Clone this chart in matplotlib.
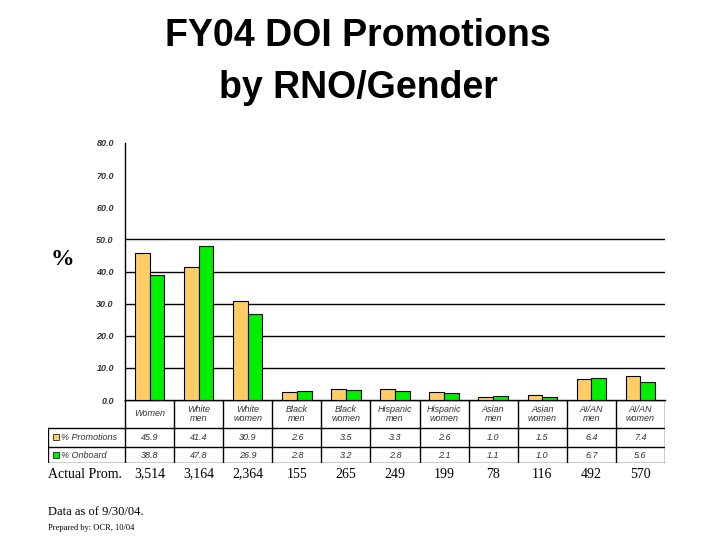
import matplotlib
matplotlib.use("Agg")
import matplotlib.pyplot as plt
import numpy as np

# DATA
categories = ["Women", "White\nmen", "White\nwomen", "Black\nmen", "Black\nwomen",
              "Hispanic\nmen", "Hispanic\nwomen", "Asian\nmen", "Asian\nwomen",
              "AI/AN\nmen", "AI/AN\nwomen"]
promotions = [45.9, 41.4, 30.9, 2.6, 3.5, 3.3, 2.6, 1.0, 1.5, 6.4, 7.4]
onboard    = [38.8, 47.8, 26.9, 2.8, 3.2, 2.8, 2.1, 1.1, 1.0, 6.7, 5.6]
actual     = ["3,514", "3,164", "2,364", "155", "265", "249", "199", "78", "116", "492", "570"]
yticks     = [0, 10, 20, 30, 40, 50, 60, 70, 80]

ORANGE = "#FFCC66"
GREEN = "#00EE00"
W, H = 720, 540

fig = plt.figure(figsize=(7.2, 5.4), dpi=100)

def fx(px): return px / W
def fy(py): return 1 - py / H

# main chart
ax = fig.add_axes([fx(125), fy(400), fx(665) - fx(125), fy(143) - fy(400)])
x = np.arange(len(categories))
bw = 0.3
ax.bar(x - bw / 2, promotions, bw, color=ORANGE, edgecolor="black", linewidth=0.8, zorder=3)
ax.bar(x + bw / 2, onboard, bw, color=GREEN, edgecolor="black", linewidth=0.8, zorder=3)
ax.set_xlim(-0.5, len(categories) - 0.5)
ax.set_ylim(0, 80)
ax.set_yticks(yticks)
ax.set_yticklabels([f"{v:.1f}" for v in yticks], fontsize=6.5, style="italic",
                   fontfamily="Liberation Sans", fontweight="bold", color="#333333")
ax.tick_params(axis="y", length=0, pad=8)
ax.set_xticks([])
for v in [10, 20, 30, 40, 50]:
    ax.axhline(v, color="black", linewidth=1, zorder=1)
for s in ["top", "right"]:
    ax.spines[s].set_visible(False)
ax.spines["left"].set_linewidth(1)
ax.spines["bottom"].set_linewidth(1)

# data table under the chart
unit_px = (665 - 125) / len(categories)
left_x = -0.5 - (125 - 48) / unit_px
tab = fig.add_axes([fx(48), fy(463), fx(665) - fx(48), fy(400) - fy(463)])
tab.set_xlim(left_x, len(categories) - 0.5)
tab.set_ylim(463, 400)
tab.axis("off")
rows = [400, 428, 447, 463]
for r in rows:
    x0 = -0.5 if r == 400 else left_x
    tab.plot([x0, len(categories) - 0.5], [r, r], color="black", lw=1)
tab.plot([left_x, left_x], [428, 463], color="black", lw=1)
for i in range(len(categories) + 1):
    tab.plot([i - 0.5, i - 0.5], [400, 463], color="black", lw=1)
tfont = dict(fontsize=6.5, style="italic", fontfamily="Liberation Sans", color="#333333",
             ha="center", va="center")
for i, c in enumerate(categories):
    tab.text(i, 414, c, linespacing=1.1, **tfont)
    tab.text(i, 437.5, f"{promotions[i]:.1f}", **tfont)
    tab.text(i, 455, f"{onboard[i]:.1f}", **tfont)
for yy, lab, col in [(437.5, "% Promotions", ORANGE), (455, "% Onboard", GREEN)]:
    tab.add_patch(plt.Rectangle((left_x + 0.1, yy - 3), 0.12, 6, facecolor=col,
                                edgecolor="black", lw=0.5))
    tab.text(left_x + 0.27, yy, lab, fontsize=6.5, style="italic", fontfamily="Liberation Sans",
             color="#333333", ha="left", va="center")

# actual promotions row
fig.text(fx(48), fy(474), "Actual Prom.", fontsize=10, fontfamily="Liberation Serif", va="center")
for i, a in enumerate(actual):
    fig.text(fx(125 + (i + 0.5) * unit_px), fy(474), a, fontsize=10,
             fontfamily="Liberation Serif", ha="center", va="center")

fig.text(fx(358), fy(36), "FY04 DOI Promotions", fontsize=27,
         fontweight="bold", fontfamily="Liberation Sans", ha="center", va="center")
fig.text(fx(358), fy(88), "by RNO/Gender", fontsize=27,
         fontweight="bold", fontfamily="Liberation Sans", ha="center", va="center")
fig.text(fx(62), fy(260), "%", fontsize=17, fontweight="bold",
         fontfamily="Liberation Serif", ha="center", va="center")
fig.text(fx(48), fy(512), "Data as of 9/30/04.", fontsize=9,
         fontfamily="Liberation Serif", va="center")
fig.text(fx(48), fy(528), "Prepared by: OCR, 10/04", fontsize=6,
         fontfamily="Liberation Serif", va="center")

fig.savefig("out.png", dpi=100)
